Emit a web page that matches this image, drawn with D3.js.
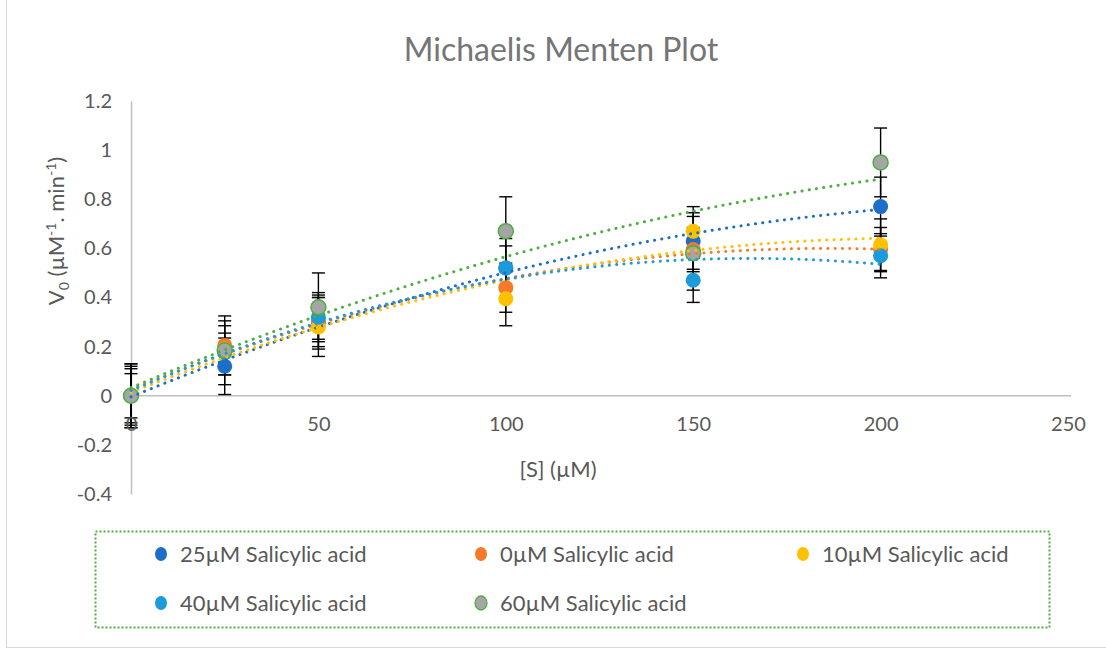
<!DOCTYPE html>
<html>
<head>
<meta charset="utf-8">
<script src="https://cdn.jsdelivr.net/npm/d3@7"></script>
<style>
  html, body { margin: 0; padding: 0; background: #ffffff; }
  svg { display: block; font-family: Lato, "Open Sans", "Liberation Sans", sans-serif; }
</style>
</head>
<body>
<svg id="chart" width="1106" height="652"></svg>
<script>
// Substrate concentrations [S] (µM)
const concentrations = [0, 25, 50, 100, 150, 200];

// Series names, in legend order
const seriesNames = [
  "25µM Salicylic acid",
  "0µM Salicylic acid",
  "10µM Salicylic acid",
  "40µM Salicylic acid",
  "60µM Salicylic acid"
];

// Initial velocities V0 for each inhibitor concentration
const v25 = [0, 0.12, 0.30, 0.52, 0.63, 0.77];
const v0  = [0, 0.205, 0.305, 0.44, 0.595, 0.595];
const v10 = [0, 0.19, 0.28, 0.395, 0.67, 0.615];
const v40 = [0, 0.175, 0.32, 0.52, 0.47, 0.57];
const v60 = [0, 0.185, 0.36, 0.67, 0.58, 0.95];

// Error bar half-widths (±)
const e25 = [0.11, 0.115, 0.10, 0.09, 0.115, 0.12];
const e0  = [0.13, 0.12, 0.115, 0.10, 0.09, 0.09];
const e10 = [0.09, 0.065, 0.12, 0.11, 0.10, 0.105];
const e40 = [0.12, 0.13, 0.09, 0.12, 0.09, 0.09];
const e60 = [0.13, 0.10, 0.14, 0.14, 0.15, 0.14];

// Axis ticks
const xTicks = [0, 50, 100, 150, 200, 250];
const yTicks = [-0.4, -0.2, 0, 0.2, 0.4, 0.6, 0.8, 1, 1.2];

const seriesValues = [v25, v0, v10, v40, v60];
const seriesErrors = [e25, e0, e10, e40, e60];
const fills   = ["#1b6fc9", "#f47a2a", "#ffc000", "#1d9ad9", "#a5a5a5"];
const strokes = ["#1b6fc9", "#f47a2a", "#ffc000", "#1d9ad9", "#4caf3e"];

const series = seriesNames.map((name, i) => ({
  name,
  fill: fills[i],
  stroke: strokes[i],
  points: concentrations.map((s, j) => ({ s, v: seriesValues[i][j], e: seriesErrors[i][j] }))
}));

// Second-order polynomial least-squares trendline
function quadFit(xs, ys) {
  let n = xs.length, sx = 0, sx2 = 0, sx3 = 0, sx4 = 0, sy = 0, sxy = 0, sx2y = 0;
  for (let i = 0; i < n; i++) {
    const x = xs[i], y = ys[i];
    sx += x; sx2 += x * x; sx3 += x * x * x; sx4 += x * x * x * x;
    sy += y; sxy += x * y; sx2y += x * x * y;
  }
  const A = [[n, sx, sx2, sy], [sx, sx2, sx3, sxy], [sx2, sx3, sx4, sx2y]];
  for (let c = 0; c < 3; c++) {
    let p = c;
    for (let r = c + 1; r < 3; r++) if (Math.abs(A[r][c]) > Math.abs(A[p][c])) p = r;
    [A[c], A[p]] = [A[p], A[c]];
    for (let r = 0; r < 3; r++) {
      if (r === c) continue;
      const f = A[r][c] / A[c][c];
      for (let k = c; k < 4; k++) A[r][k] -= f * A[c][k];
    }
  }
  const a = A[0][3] / A[0][0], b = A[1][3] / A[1][1], c2 = A[2][3] / A[2][2];
  return x => a + b * x + c2 * x * x;
}

const svg = d3.select("#chart");

// Chart frame
svg.append("line").attr("x1", 6.5).attr("x2", 6.5).attr("y1", 0).attr("y2", 648)
  .attr("stroke", "#d9d9d9").attr("stroke-width", 1);
svg.append("line").attr("x1", 6).attr("x2", 1106).attr("y1", 647.5).attr("y2", 647.5)
  .attr("stroke", "#d9d9d9").attr("stroke-width", 1);

const x = d3.scaleLinear().domain([0, 250]).range([131, 1068]);
const y = d3.scaleLinear().domain([-0.4, 1.2]).range([494, 101]);

// Title
svg.append("text")
  .attr("x", 561).attr("y", 61)
  .attr("text-anchor", "middle")
  .attr("font-size", 32)
  .attr("fill", "#757575")
  .text("Michaelis Menten Plot");

// X axis line along V0 = 0
const xAxisLine = svg.append("g")
  .attr("transform", `translate(0,${y(0)})`)
  .call(d3.axisBottom(x).tickValues([]).tickSize(0));
xAxisLine.select(".domain").attr("stroke", "#bfbfbf").attr("stroke-width", 1.5)
  .attr("d", `M${x(0)},0H${x(250) + 3}`);

// Y axis at [S] = 0
const yAxis = svg.append("g")
  .attr("transform", `translate(${x(0)},0)`)
  .call(d3.axisLeft(y).tickValues(yTicks).tickSize(0).tickPadding(19).tickFormat(d => String(+d.toFixed(1))));
yAxis.select(".domain").attr("stroke", "#bfbfbf").attr("stroke-width", 1.5);
yAxis.selectAll("text").attr("font-size", 20).attr("fill", "#595959")
  .attr("font-family", "Lato, 'Open Sans', sans-serif");

// Axis titles
svg.append("text")
  .attr("x", 558).attr("y", 477)
  .attr("text-anchor", "middle")
  .attr("font-size", 22)
  .attr("fill", "#595959")
  .text("[S] (µM)");

const yTitle = svg.append("text")
  .attr("transform", "translate(64,231) rotate(-90)")
  .attr("text-anchor", "middle")
  .attr("font-size", 22)
  .attr("fill", "#595959");
yTitle.append("tspan").text("V");
yTitle.append("tspan").attr("font-size", 14).attr("dy", 5).text("0");
yTitle.append("tspan").attr("dy", -5).text(" (µM");
yTitle.append("tspan").attr("font-size", 14).attr("dy", -8).text("-1");
yTitle.append("tspan").attr("dy", 8).text(". min");
yTitle.append("tspan").attr("font-size", 14).attr("dy", -8).text("-1");
yTitle.append("tspan").attr("dy", 8).text(")");

// X tick labels
const xAxis = svg.append("g")
  .attr("transform", `translate(0,${y(0)})`)
  .call(d3.axisBottom(x).tickValues(xTicks).tickSize(0).tickPadding(21).tickFormat(d3.format("d")));
xAxis.select(".domain").remove();
xAxis.selectAll("text").attr("font-size", 20).attr("fill", "#595959")
  .attr("font-family", "Lato, 'Open Sans', sans-serif");

// Error bars
const errG = svg.append("g").attr("stroke", "#000").attr("stroke-width", 1.4);
series.forEach(sr => {
  sr.points.forEach(p => {
    const cx = x(p.s), y1 = y(p.v + p.e), y2 = y(p.v - p.e);
    errG.append("line").attr("x1", cx).attr("x2", cx).attr("y1", y1).attr("y2", y2);
    errG.append("line").attr("x1", cx - 6.5).attr("x2", cx + 6.5).attr("y1", y1).attr("y2", y1);
    errG.append("line").attr("x1", cx - 6.5).attr("x2", cx + 6.5).attr("y1", y2).attr("y2", y2);
  });
});

// The "0" label sits over the error bars at [S] = 0
xAxis.raise();

// Markers
series.forEach(sr => {
  svg.append("g").selectAll("circle").data(sr.points).join("circle")
    .attr("cx", d => x(d.s)).attr("cy", d => y(d.v)).attr("r", 7.5)
    .attr("fill", sr.fill)
    .attr("stroke", sr.stroke).attr("stroke-width", sr.fill === sr.stroke ? 0 : 1.5);
});

// Dotted polynomial trendlines
series.forEach(sr => {
  const f = quadFit(sr.points.map(p => p.s), sr.points.map(p => p.v));
  const xs = d3.range(0, 200.01, 2);
  svg.append("path")
    .datum(xs)
    .attr("d", d3.line().x(s => x(s)).y(s => y(f(s))))
    .attr("fill", "none")
    .attr("stroke", sr.stroke)
    .attr("stroke-width", 3)
    .attr("stroke-linecap", "round")
    .attr("stroke-dasharray", "0.1 7.2");
});

// Legend
svg.append("rect")
  .attr("x", 95.5).attr("y", 531.5).attr("width", 954).attr("height", 96)
  .attr("fill", "none").attr("stroke", "#4caf3e").attr("stroke-width", 2)
  .attr("stroke-dasharray", "2 2");

const legendX = [161, 481, 803, 161, 481];
const legendY = [554, 554, 554, 603, 603];
series.forEach((sr, i) => {
  const g = svg.append("g").attr("transform", `translate(${legendX[i]},${legendY[i]})`);
  g.append("ellipse").attr("rx", 6).attr("ry", 7)
    .attr("fill", sr.fill).attr("stroke", sr.stroke).attr("stroke-width", sr.fill === sr.stroke ? 0 : 1.3);
  g.append("text").attr("x", 19).attr("y", 7.5)
    .attr("font-size", 22).attr("fill", "#595959")
    .text(sr.name);
});
</script>
</body>
</html>
